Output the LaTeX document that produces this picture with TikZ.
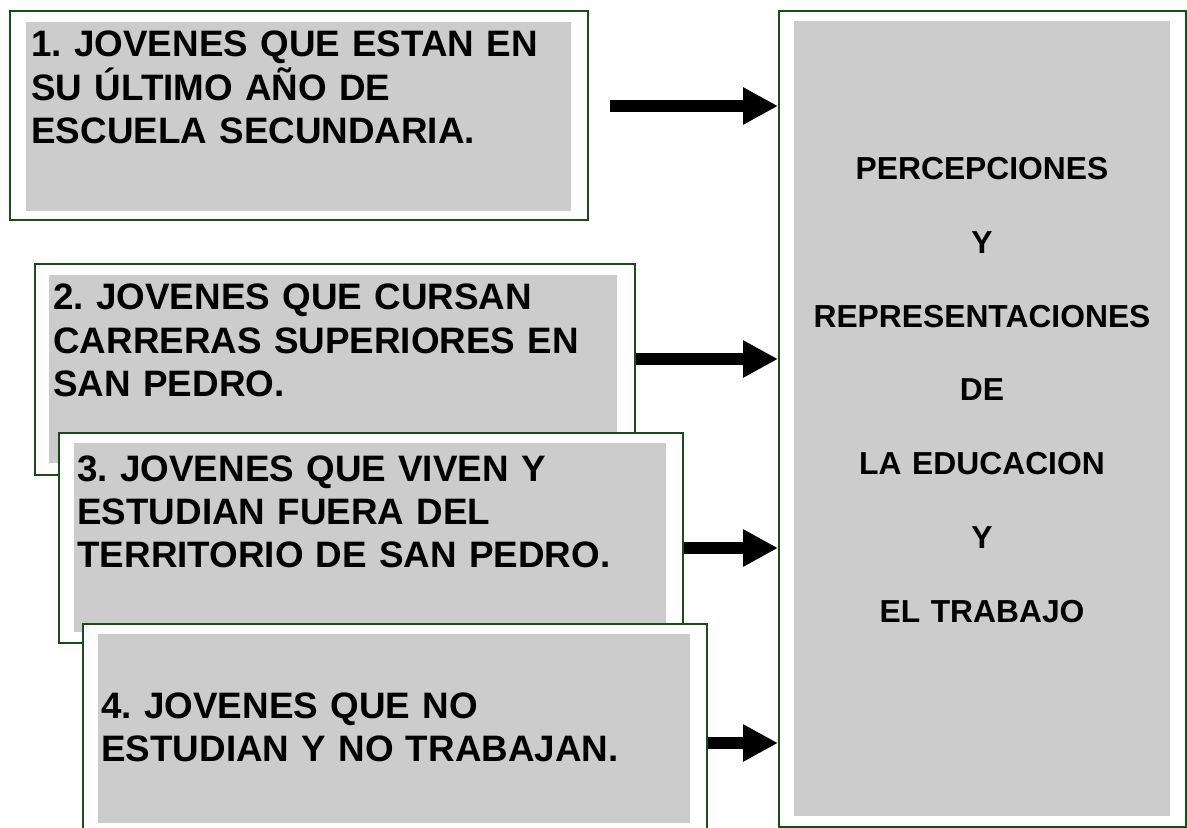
\documentclass[tikz,border=0pt]{standalone}
\usepackage{fontspec}
\setmainfont{Liberation Sans}
\usetikzlibrary{arrows.meta}
\frenchspacing
\definecolor{framegreen}{HTML}{1C4A1C}
\definecolor{panelgray}{HTML}{CCCCCC}
\tikzset{
  frame/.style={rectangle, draw=framegreen, line width=1pt, fill=white, inner sep=0pt, anchor=north west},
  panel/.style={rectangle, fill=panelgray, inner sep=0pt, anchor=north west},
  lefttext/.style={anchor=base west, align=left, inner sep=0pt, text width=300pt,
    font=\bfseries\fontsize{18.4}{21.6}\selectfont},
  righttext/.style={anchor=base, align=center, inner sep=0pt, text width=185pt,
    font=\bfseries\fontsize{15.9}{36.9}\selectfont},
  arrowline/.style={line width=6pt, -{Triangle[length=17.5pt,width=17.5pt]}}
}
\begin{document}
\begin{tikzpicture}[x=0.5pt,y=-0.5pt]
\useasboundingbox (0,0) rectangle (1187,828);
\fill[white] (0,0) rectangle (1187,828);
\clip (0,0) rectangle (1187,828);

% box 1
\node[frame, minimum width=289pt, minimum height=104.5pt] (f1) at (9,10) {};
\node[panel, minimum width=272.5pt, minimum height=94.5pt] (p1) at (26,22) {};
\node[lefttext] (t1) at (31,57) {1. JOVENES QUE ESTAN EN\\SU ÚLTIMO AÑO DE\\ESCUELA SECUNDARIA.};

% box 2
\node[frame, minimum width=300pt, minimum height=105.5pt] (f2) at (34,263) {};
\node[panel, minimum width=284pt, minimum height=94pt] (p2) at (49,275) {};
\node[lefttext] (t2) at (53,310) {2. JOVENES QUE CURSAN\\CARRERAS SUPERIORES EN\\SAN PEDRO.};

% box 3
\node[frame, minimum width=312pt, minimum height=105pt] (f3) at (58,432) {};
\node[panel, minimum width=296pt, minimum height=94.5pt] (p3) at (74,443) {};
\node[lefttext] (t3) at (77,481) {3. JOVENES QUE VIVEN Y\\ESTUDIAN FUERA DEL\\TERRITORIO DE SAN PEDRO.};

% box 4
\node[frame, minimum width=312pt, minimum height=115pt] (f4) at (82,623) {};
\node[panel, minimum width=296pt, minimum height=94.5pt] (p4) at (98,634) {};
\node[lefttext] (t4) at (101,718) {4. JOVENES QUE NO\\ESTUDIAN Y NO TRABAJAN.};

% right box
\node[frame, minimum width=203.5pt, minimum height=408pt] (R) at (778,10) {};
\node[panel, minimum width=188pt, minimum height=397.5pt] (pR) at (794,21) {};
\node[righttext] (tR) at (982,179.5) {PERCEPCIONES\\Y\\REPRESENTACIONES\\DE\\LA EDUCACION\\Y\\EL TRABAJO};

% arrows
\coordinate (a1) at (610,106);
\coordinate (y2) at (0,359);
\coordinate (y3) at (0,548);
\coordinate (y4) at (0,743);
\draw[arrowline] (a1) -- (R.west |- a1);
\draw[arrowline] (f2.east |- y2) -- (R.west |- y2);
\draw[arrowline] (f3.east |- y3) -- (R.west |- y3);
\draw[arrowline] (f4.east |- y4) -- (R.west |- y4);
\end{tikzpicture}
\end{document}
